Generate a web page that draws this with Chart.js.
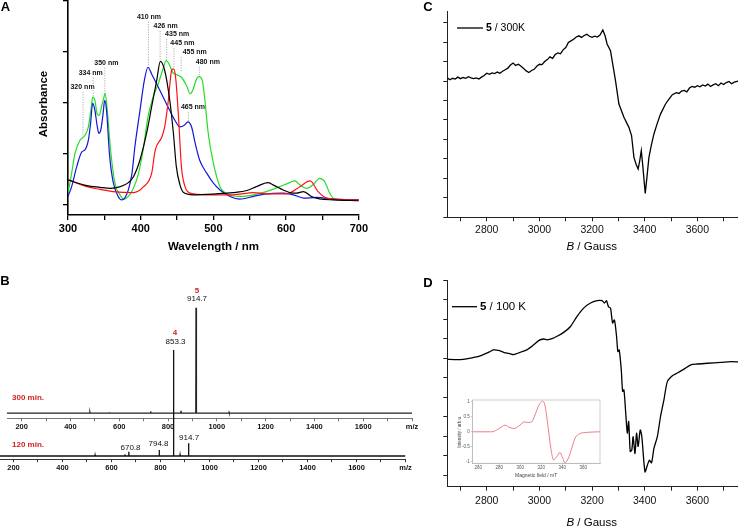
<!DOCTYPE html>
<html><head><meta charset="utf-8">
<script src="https://cdn.jsdelivr.net/npm/chart.js@4.4.1/dist/chart.umd.min.js"></script>
<style>
html,body{margin:0;padding:0;background:#fff;}
#wrap{position:relative;width:738px;height:527px;overflow:hidden;background:#fff;}
canvas{position:absolute;}
</style></head><body>
<div id="wrap">
<canvas id="cA" width="370" height="260" style="left:0px;top:0px"></canvas>
<canvas id="cBu" width="430" height="170" style="left:0px;top:270px"></canvas>
<canvas id="cBl" width="430" height="145" style="left:0px;top:330px"></canvas>
<canvas id="cC" width="373" height="260" style="left:370px;top:0px"></canvas>
<canvas id="cD" width="373" height="257" style="left:370px;top:270px"></canvas>
<canvas id="cI" width="170" height="90" style="left:440px;top:395px"></canvas>
</div>
<script>
// ---------- Panel A : UV-vis absorbance ----------
const wlBlack  = [300,326,344,358,372,383,390,399,408,415,422,427,433,440,445,449,454,459,472,504,527,546,559,575,582,596,605,614,624,635,646,665,700];
const absBlack = [0.122,0.094,0.086,0.081,0.089,0.109,0.138,0.220,0.350,0.480,0.610,0.704,0.659,0.512,0.350,0.187,0.098,0.060,0.049,0.054,0.060,0.070,0.089,0.109,0.098,0.073,0.060,0.057,0.065,0.041,0.029,0.024,0.020];
const wlRed    = [300,326,344,362,390,404,415,420,429,433,438,442.5,445,448,452,456,461,468,491,527,555,573,601,619,633,644,656,700];
const absRed   = [0.122,0.089,0.076,0.065,0.060,0.089,0.154,0.268,0.333,0.382,0.512,0.659,0.667,0.626,0.431,0.187,0.089,0.057,0.049,0.049,0.060,0.054,0.054,0.089,0.117,0.065,0.033,0.024];
const wlBlue   = [300,305,312,319,323,328,331,334,337,340,342.5,345,348,350.5,353,357,362,369,374,378,383,388,392,399,405,410,415,422,431,440,447,454,460,465,470,475,481,491,500,509,523,536,555,573,596,610,624,642,665,700];
const absBlue  = [0.041,0.089,0.187,0.260,0.268,0.317,0.398,0.499,0.463,0.390,0.350,0.366,0.439,0.512,0.463,0.250,0.114,0.041,0.024,0.033,0.073,0.154,0.285,0.463,0.610,0.675,0.642,0.593,0.528,0.463,0.415,0.382,0.390,0.407,0.382,0.301,0.220,0.154,0.106,0.073,0.041,0.028,0.041,0.054,0.057,0.049,0.033,0.036,0.028,0.024];
const wlGreen  = [300,305,309.6,316.5,323.4,328,332,334,337,340,343,346,349.5,351,354,358.6,364.6,371.5,377,383,390,397,404,410,417,424,430,435,439,444,449,456,463,468,471.4,476.9,480,484.7,488.3,492.9,500,509,518,536,555,573,591,605,612,619,628,637,646,653,660,667,700];
const absGreen = [0.057,0.154,0.252,0.317,0.341,0.382,0.480,0.528,0.512,0.447,0.439,0.480,0.528,0.548,0.463,0.268,0.106,0.049,0.028,0.041,0.081,0.154,0.285,0.431,0.528,0.593,0.659,0.707,0.691,0.650,0.639,0.626,0.585,0.545,0.561,0.618,0.629,0.610,0.512,0.350,0.203,0.089,0.054,0.041,0.049,0.065,0.089,0.109,0.117,0.098,0.081,0.098,0.130,0.114,0.057,0.028,0.024];
// peak annotations: wavelength, label level, peak level, label shift (px)
const annoWl    = [320,334,350,410,426,435,445,455,465,480];
const annoLabel = [0.579,0.648,0.697,0.923,0.877,0.837,0.792,0.748,0.478,0.702];
const annoPeak  = [0.333,0.529,0.549,0.686,0.711,0.711,0.671,0.652,0.406,0.627];
const annoShift = [0,-2,2,1,6,11,9,14,5,9];

// ---------- Panel B : mass spectra ----------
const mz300  = [480,560,728.7,853.3,914.7,916.7,1050];
const int300 = [0.8,0.8,1.6,2,100,5,0.6];
const mz120  = [533,655,670.8,794.8,853.3,880,914.7,975];
const int120 = [1,1.5,4,5.7,100,1.2,12,0.8];

// ---------- Panel C : EPR 300 K ----------
const gaussC = [2650,2660,2670,2680,2690,2700,2710,2720,2730,2740,
 2750,2760,2770,2780,2790,2800,2810,2820,2830,2840,
 2850,2860,2870,2880,2890,2900,2910,2920,2930,2940,
 2950,2960,2970,2980,2990,3000,3010,3020,3030,3040,
 3050,3060,3070,3080,3090,3100,3110,3120,3130,3140,
 3150,3160,3170,3180,3190,3200,3210,3220,3230,3241,
 3250,3257,3270,3289,3302,3321,3340,3350,3359,3368,
 3375,3381,3387,3393,3402,3408,3416,3425,3435,3447,
 3460,3479,3495,3505,3520,3530,3540,3550,3560,3570,
 3580,3590,3600,3610,3620,3630,3640,3650,3660,3670,
 3680,3690,3700,3710,3720,3730,3740,3755];
const sigC = [1.08,1.03,1.07,1.05,1.10,1.06,1.09,1.07,1.11,1.08,
 1.06,1.08,1.05,1.10,1.14,1.20,1.17,1.21,1.19,1.23,
 1.20,1.25,1.29,1.33,1.41,1.46,1.40,1.43,1.38,1.32,
 1.26,1.22,1.27,1.30,1.38,1.43,1.42,1.50,1.55,1.62,
 1.58,1.68,1.72,1.70,1.80,1.86,1.99,2.03,2.07,2.13,
 2.16,2.12,2.17,2.20,2.15,2.12,2.15,2.13,2.18,2.31,
 2.15,1.95,1.78,1.01,0.41,0.07,-0.19,-0.40,-0.96,-1.15,
 -1.26,-1.05,-0.79,-1.20,-1.89,-1.50,-0.96,-0.65,-0.36,-0.10,
 0.15,0.41,0.56,0.65,0.70,0.68,0.74,0.76,0.72,0.82,
 0.86,0.84,0.88,0.85,0.90,0.87,0.92,0.86,0.90,0.93,
 0.88,0.95,0.91,0.96,0.99,0.93,0.97,1.00];

// ---------- Panel D : EPR 100 K ----------
const gaussD = [2650,2686,2711,2736,2762,2787,2813,2825,2844,2864,
 2889,2902,2927,2952,2978,2997,3016,3029,3048,3067,
 3092,3118,3143,3168,3194,3219,3238,3247,3255,3262,
 3270,3278,3285,3293,3298,3303,3311,3316,3321,3327,
 3334,3339,3345,3351,3356,3363,3369,3375,3383,3389,
 3401,3410,3418,3426,3435,3448,3460,3473,3486,3505,
 3524,3549,3575,3600,3638,3689,3727,3760];
const sigD = [-0.03,-0.04,-0.03,0,0.03,0.09,0.17,0.21,0.20,0.15,
 0.11,0.09,0.15,0.21,0.34,0.45,0.49,0.47,0.50,0.56,
 0.66,0.81,1.07,1.28,1.41,1.47,1.47,1.41,1.47,1.32,
 1.28,0.90,0.98,0.56,0.17,0.21,-0.30,-0.85,-0.81,-1.32,
 -1.92,-1.62,-2.39,-2.35,-2.01,-2.44,-1.92,-2.26,-1.84,-2.01,
 -2.91,-2.74,-2.61,-2.68,-2.31,-2.01,-1.50,-1.07,-0.60,-0.45,
 -0.38,-0.28,-0.17,-0.15,-0.13,-0.11,-0.09,-0.10];

// ---------- Inset : simulated spectrum ----------
const fieldIn = [254.3,272.8,277.5,282.3,285.4,290.2,294.3,299.7,303.8,307.6,310.8,314,317.8,321,323.5,326.7,329.2,331.8,334.7,337.8,340,342.6,345.7,349,352.1,356.9,363.2,376];
const intIn   = [0,0,0.06,0.17,0.22,0.14,0.11,0.22,0.33,0.31,0.33,0.56,0.89,1.02,0.89,0.11,-0.56,-0.94,-0.83,-0.69,-0.83,-1.03,-0.89,-0.56,-0.22,-0.06,-0.02,0];

// ================= helpers =================
const FONT = "'Liberation Sans', Arial, Helvetica, sans-serif";
Chart.defaults.font.family = FONT;
Chart.defaults.color = '#000';
const zip = (xs, ys) => xs.map((x, i) => ({x: x, y: ys[i]}));
function spikes(mz, inten, lo, hi, hw) {
  const pts = [{x: lo, y: 0}];
  mz.forEach((m, i) => { pts.push({x: m - hw, y: 0}, {x: m, y: inten[i]}, {x: m + hw, y: 0}); });
  pts.push({x: hi, y: 0});
  return pts;
}
function txt(ctx, s, x, y, font, color, align, base) {
  ctx.save();
  ctx.font = font; ctx.fillStyle = color || '#000';
  ctx.textAlign = align || 'center'; ctx.textBaseline = base || 'middle';
  ctx.fillText(s, x, y);
  ctx.restore();
}
function baseOpts(pad) {
  return {
    responsive: false, animation: false, devicePixelRatio: 1,
    layout: {padding: pad},
    plugins: {legend: {display: false}, tooltip: {enabled: false}},
    elements: {point: {radius: 0}},
    events: []
  };
}
function axis(o) {
  return Object.assign({
    type: 'linear',
    grid: {display: true, drawOnChartArea: false, color: o.color || '#000', tickLength: o.tl || 4, lineWidth: o.tw || 1},
    border: {display: true, color: o.color || '#000', width: o.bw || 1}
  }, o.extra);
}
function gaussTitle(ctx, cx, cy, fs) {
  ctx.save();
  ctx.textBaseline = 'middle'; ctx.textAlign = 'left'; ctx.fillStyle = '#000';
  ctx.font = `italic ${fs}px ${FONT}`; const w1 = ctx.measureText('B').width;
  ctx.font = `${fs}px ${FONT}`; const w2 = ctx.measureText(' / Gauss').width;
  const x0 = cx - (w1 + w2) / 2;
  ctx.font = `italic ${fs}px ${FONT}`; ctx.fillText('B', x0, cy);
  ctx.font = `${fs}px ${FONT}`; ctx.fillText(' / Gauss', x0 + w1, cy);
  ctx.restore();
}
function legendItem(ctx, x0, x1, y, tx, fs, rest) {
  ctx.save();
  ctx.strokeStyle = '#000'; ctx.lineWidth = 1.3;
  ctx.beginPath(); ctx.moveTo(x0, y); ctx.lineTo(x1, y); ctx.stroke();
  ctx.textBaseline = 'middle'; ctx.textAlign = 'left'; ctx.fillStyle = '#000';
  ctx.font = `bold ${fs}px ${FONT}`; ctx.fillText('5', tx, y);
  const w = ctx.measureText('5').width;
  ctx.font = `${fs}px ${FONT}`; ctx.fillText(rest, tx + w, y);
  ctx.restore();
}

// ================= Panel A =================
const plugA = {id: 'plugA', afterDraw(chart) {
  const {ctx, scales: {x, y}} = chart;
  txt(ctx, 'A', 5.5, 7.5, `bold 13px ${FONT}`);
  txt(ctx, 'Wavelength / nm', (x.left + x.right) / 2, 247, `bold 11.5px ${FONT}`);
  ctx.save(); ctx.translate(44, 104); ctx.rotate(-Math.PI / 2);
  txt(ctx, 'Absorbance', 0, 0, `bold 11.5px ${FONT}`); ctx.restore();
  annoWl.forEach((wl, i) => {
    const px = x.getPixelForValue(wl);
    const ly = y.getPixelForValue(annoLabel[i]);
    const py = y.getPixelForValue(annoPeak[i]);
    ctx.save(); ctx.strokeStyle = '#888'; ctx.lineWidth = 0.8; ctx.setLineDash([1, 1.5]);
    ctx.beginPath(); ctx.moveTo(px + 0.5, ly + 5); ctx.lineTo(px + 0.5, py); ctx.stroke(); ctx.restore();
    txt(ctx, wl + ' nm', px + annoShift[i], ly, `bold 7px ${FONT}`, '#111');
  });
}};
new Chart(document.getElementById('cA'), {
  type: 'line',
  data: {datasets: [
    {data: zip(wlBlack, absBlack), borderColor: '#000'},
    {data: zip(wlRed, absRed), borderColor: '#ff1010'},
    {data: zip(wlBlue, absBlue), borderColor: '#1515d8'},
    {data: zip(wlGreen, absGreen), borderColor: '#25dd25'}
  ]},
  options: Object.assign(baseOpts({left: 0, right: 11, top: 1, bottom: 0}), {
    elements: {point: {radius: 0}, line: {borderWidth: 1.2, cubicInterpolationMode: 'monotone'}},
    scales: {
      x: axis({tl: 5, tw: 1.3, bw: 1.6, extra: {min: 300, max: 700, afterFit: s => { s.height = 45; },
        ticks: {stepSize: 50, autoSkip: false, maxRotation: 0, includeBounds: false, maxTicksLimit: 100, padding: 2, color: '#000', font: {size: 11, weight: 'bold'},
          callback: v => (v % 100 === 0 ? String(v) : '')}}}),
      y: axis({tl: 5, tw: 1.3, bw: 1.6, extra: {min: -0.05, max: 1.0, afterFit: s => { s.width = 68; },
        ticks: {display: false, stepSize: 0.25, autoSkip: false, includeBounds: false, maxTicksLimit: 100}}})
    }
  }),
  plugins: [plugA]
});

// ================= Panel B =================
const msLabelFont = `8px ${FONT}`;
const redBold = `bold 8px ${FONT}`;
const mzTick = v => (v === 1800 ? 'm/z' : (v % 200 === 0 ? String(v) : ''));
const plugBu = {id: 'plugBu', afterDraw(chart) {
  const {ctx, scales: {x, y}} = chart;
  txt(ctx, 'B', 5, 11.7, `bold 13px ${FONT}`);
  const px = x.getPixelForValue(914.7), py = y.getPixelForValue(100);
  txt(ctx, '5', px + 1, py - 17, redBold, '#d42020');
  txt(ctx, '914.7', px + 1, py - 8.5, msLabelFont, '#111');
  txt(ctx, '300 min.', 12, y.getPixelForValue(14.5), redBold, '#d42020', 'left');
}};
new Chart(document.getElementById('cBu'), {
  type: 'line',
  data: {datasets: [{data: spikes(mz300, int300, 140, 1800, 0.8), borderColor: '#222', borderWidth: 1.3, tension: 0}]},
  options: Object.assign(baseOpts({left: 7, right: 18, top: 30.3, bottom: 0}), {
    scales: {
      x: axis({tl: 3, color: '#777', extra: {min: 140, max: 1800, afterFit: s => { s.height = 21.7; },
        ticks: {stepSize: 100, autoSkip: false, maxRotation: 0, includeBounds: false, maxTicksLimit: 100, padding: 1.5, color: '#111', font: {size: 7.5, weight: 'bold'}, callback: mzTick}}}),
      y: {type: 'linear', display: false, min: -5, max: 107}
    }
  }),
  plugins: [plugBu]
});
const lab120 = [
  {mz: 853.3, t: '853.3', dx: 2, dy: -8.5},
  {mz: 914.7, t: '914.7', dx: 0.5, dy: -6},
  {mz: 794.8, t: '794.8', dx: -0.7, dy: -6},
  {mz: 670.8, t: '670.8', dx: 1.7, dy: -4}
];
const plugBl = {id: 'plugBl', afterDraw(chart) {
  const {ctx, scales: {x, y}} = chart;
  lab120.forEach(l => {
    const i = mz120.indexOf(l.mz);
    const px = x.getPixelForValue(l.mz), py = y.getPixelForValue(int120[i]);
    txt(ctx, l.t, px + l.dx, py + l.dy, msLabelFont, '#111');
  });
  const p4x = x.getPixelForValue(853.3), p4y = y.getPixelForValue(100);
  txt(ctx, '4', p4x + 1.5, p4y - 17, redBold, '#d42020');
  txt(ctx, '120 min.', 12, y.getPixelForValue(11), redBold, '#d42020', 'left');
}};
new Chart(document.getElementById('cBl'), {
  type: 'line',
  data: {datasets: [{data: spikes(mz120, int120, 145, 1800, 0.8), borderColor: '#111', borderWidth: 1.3, tension: 0}]},
  options: Object.assign(baseOpts({left: 0, right: 24.5, top: 14.7, bottom: 0}), {
    scales: {
      x: axis({tl: 3, color: '#333', extra: {min: 145, max: 1800, afterFit: s => { s.height = 15.8; },
        ticks: {stepSize: 100, autoSkip: false, maxRotation: 0, includeBounds: false, maxTicksLimit: 100, padding: 1, color: '#111', font: {size: 7.5, weight: 'bold'}, callback: mzTick}}}),
      y: {type: 'linear', display: false, min: -3, max: 105}
    }
  }),
  plugins: [plugBl]
});

// ================= Panels C & D =================
const gaussTick = v => (Math.round(v) % 200 === 0 ? String(Math.round(v)) : '');
function eprChart(id, gx, gy, yMin, yMax, top, xH, letterY, legend, titleY, tickPad) {
  const plug = {id: 'plug' + id, afterDraw(chart) {
    const {ctx} = chart;
    txt(ctx, id === 'cC' ? 'C' : 'D', 58, letterY, `bold 13px ${FONT}`);
    legendItem(ctx, legend[0], legend[1], legend[2], legend[3], legend[4], legend[5]);
    gaussTitle(ctx, 221.7, titleY, 11.5);
  }};
  new Chart(document.getElementById(id), {
    type: 'line',
    data: {datasets: [{data: zip(gx, gy), borderColor: '#000', borderWidth: 1.3,
      tension: id === 'cC' ? 0 : 0.25}]},
    options: Object.assign(baseOpts({left: 0, right: 0.9, top: top, bottom: 0}), {
      scales: {
        x: axis({tl: 4, color: '#222', extra: {min: 2650, max: 3770, afterFit: s => { s.height = xH; },
          ticks: {stepSize: 100, autoSkip: false, maxRotation: 0, includeBounds: false, maxTicksLimit: 100, padding: tickPad, color: '#111', font: {size: 10.5}, callback: gaussTick}}}),
        y: axis({tl: 4, color: '#222', extra: {min: yMin, max: yMax, afterFit: s => { s.width = 77.3; },
          ticks: {display: false, stepSize: 0.5, autoSkip: false, includeBounds: false, maxTicksLimit: 100}}})
      }
    }),
    plugins: [plug]
  });
}
eprChart('cC', gaussC, sigC, -2.5, 2.78, 11.7, 42.7, 7.5, [87, 113, 28, 116, 10.5, ' / 300K'], 246.7, 3);
eprChart('cD', gaussD, sigD, -3.29, 2.0, 10, 40.3, 13.3, [82, 107, 36.7, 110, 11.5, ' / 100 K'], 253, 4);

// ================= Inset =================
const plugI = {id: 'plugI',
  beforeDraw(chart) {
    const {ctx, chartArea: a} = chart;
    ctx.save(); ctx.fillStyle = '#fff'; ctx.fillRect(a.left, a.top, a.right - a.left, a.bottom - a.top); ctx.restore();
  },
  afterDraw(chart) {
    const {ctx, chartArea: a} = chart;
    ctx.save(); ctx.strokeStyle = '#bbb'; ctx.lineWidth = 0.7;
    ctx.strokeRect(a.left, a.top, a.right - a.left, a.bottom - a.top); ctx.restore();
    txt(ctx, 'Magnetic field / mT', (a.left + a.right) / 2, 80.7, `5px ${FONT}`, '#444');
    ctx.save(); ctx.translate(20, (a.top + a.bottom) / 2); ctx.rotate(-Math.PI / 2);
    txt(ctx, 'Intensity / arb.u.', 0, 0, `4.5px ${FONT}`, '#444'); ctx.restore();
  }
};
new Chart(document.getElementById('cI'), {
  type: 'line',
  data: {datasets: [{data: zip(fieldIn, intIn), borderColor: '#e8707a', borderWidth: 0.9, cubicInterpolationMode: 'monotone'}]},
  options: Object.assign(baseOpts({left: 0, right: 10, top: 5, bottom: 0}), {
    scales: {
      x: axis({tl: 1.5, color: '#aaa', bw: 0.7, tw: 0.6, extra: {min: 254.3, max: 376, afterFit: s => { s.height = 21.7; },
        ticks: {stepSize: 20, autoSkip: false, maxRotation: 0, includeBounds: false, maxTicksLimit: 100, padding: 0.5, color: '#555', font: {size: 4.5}}}}),
      y: axis({tl: 1.5, color: '#aaa', bw: 0.7, tw: 0.6, extra: {min: -1.05, max: 1.06, afterFit: s => { s.width = 32.3; },
        ticks: {stepSize: 0.5, autoSkip: false, includeBounds: false, maxTicksLimit: 100, padding: 1, color: '#555', font: {size: 4.5}, callback: v => String(v)}}})
    }
  }),
  plugins: [plugI]
});
</script>
</body></html>
